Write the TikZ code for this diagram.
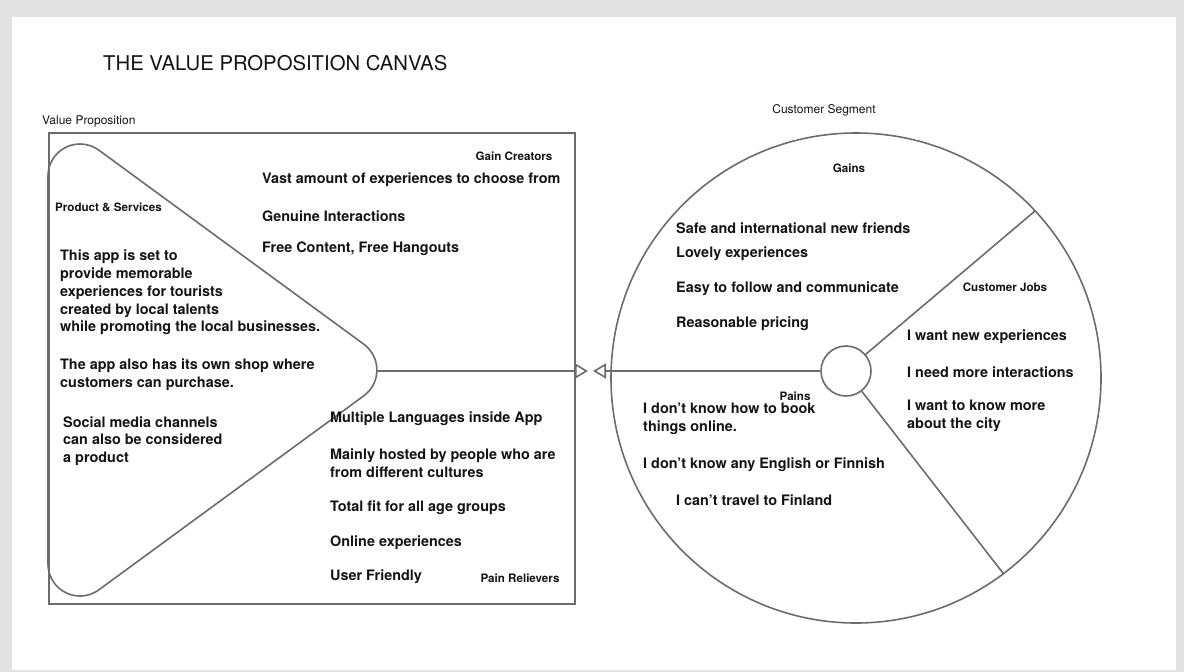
\documentclass[tikz,border=0pt]{standalone}
\usepackage{fontspec}
\setmainfont{TeX Gyre Heros}
\usetikzlibrary{arrows.meta}
\definecolor{bggray}{RGB}{226,226,226}
\definecolor{linegray}{RGB}{108,108,108}
\definecolor{ink}{RGB}{20,20,20}
\tikzset{
  conn/.style={draw=linegray, line width=1.6pt},
  frame/.style={draw=linegray, line width=1.8pt},
  opentip/.style={-{Triangle[open,length=13pt,width=15pt,line width=1.6pt]}},
  item/.style={font=\fontsize{14.4}{17.8}\selectfont\bfseries, text=ink, anchor=west, inner sep=0pt, align=left},
  lab/.style={font=\fontsize{11.6}{13}\selectfont\bfseries, text=ink, inner sep=0pt},
  capt/.style={font=\fontsize{12}{14}\selectfont, text=ink, inner sep=0pt},
  ttl/.style={font=\fontsize{20.3}{24}\selectfont, text=ink, inner sep=0pt, anchor=west}
}
\begin{document}
\begin{tikzpicture}[x=1pt,y=1pt]
\useasboundingbox (0,0) rectangle (1184,-672);
\fill[bggray] (0,0) rectangle (1184,-672);
\fill[white] (12,-17) rectangle (1176,-670);

% title and captions
\node[ttl] (title) at (103,-63) {THE VALUE PROPOSITION CANVAS};
\node[capt, anchor=west] (vplab) at (42,-121) {Value Proposition};
\node[capt] (cslab) at (824,-110) {Customer Segment};

% value proposition frame
\node[frame, minimum width=526pt, minimum height=471pt, anchor=north west, inner sep=0pt] (vp) at (48,-132) {};

% product & services rounded triangle
\draw[conn] (48,-176) arc[start angle=180, end angle=53.76, radius=32]
  -- (363.8,-344.2) arc[start angle=53.76, end angle=-53.76, radius=32]
  -- (98.9,-589.8) arc[start angle=-53.76, end angle=-180, radius=32]
  -- cycle;
\coordinate (tip) at (376.9,-370);

% customer segment circle
\node[conn, circle, minimum size=490pt, inner sep=0pt] (cs) at (856,-378) {};
\node[conn, circle, minimum size=50pt, inner sep=0pt] (hub) at (846,-371) {};
\draw[conn] (hub) -- (cs.43);
\draw[conn] (hub) -- (cs.-53);

% connector with two open arrowheads
\coordinate (a1) at (588,-371);
\coordinate (a2) at (593,-371);
\draw[conn, opentip] (tip |- a1) -- (a1);
\draw[conn, opentip] (hub.west) -- (a2);

% gain creators
\node[lab] (gc) at (514,-156) {Gain Creators};
\node[item] (g1) at (262,-180) {Vast amount of experiences to choose from};
\node[item] (g2) at (262,-216) {Genuine Interactions};
\node[item] (g3) at (262,-249) {Free Content, Free Hangouts};

% products & services
\node[lab, anchor=west] (ps) at (55,-207) {Product \& Services};
\node[item] (p1) at (60,-292.5) {This app is set to\\provide memorable\\experiences for tourists\\created by local talents\\while promoting the local businesses.};
\node[item] (p2) at (60,-374.5) {The app also has its own shop where\\customers can purchase.};
\node[item] (p3) at (63,-441) {Social media channels\\can also be considered\\a product};

% pain relievers
\node[item] (r1) at (330,-419) {Multiple Languages inside App};
\node[item] (r2) at (330,-463.5) {Mainly hosted by people who are\\from different cultures};
\node[item] (r3) at (330,-508) {Total fit for all age groups};
\node[item] (r4) at (330,-543) {Online experiences};
\node[item] (r5) at (330,-577) {User Friendly};
\node[lab] (pr) at (520,-578) {Pain Relievers};

% gains
\node[lab] (gn) at (849,-168) {Gains};
\node[item] (c1) at (676,-228) {Safe and international new friends};
\node[item] (c2) at (676,-254) {Lovely experiences};
\node[item] (c3) at (676,-289) {Easy to follow and communicate};
\node[item] (c4) at (676,-324) {Reasonable pricing};

% customer jobs
\node[lab] (cj) at (1005,-287) {Customer Jobs};
\node[item] (j1) at (907,-337) {I want new experiences};
\node[item] (j2) at (907,-372) {I need more interactions};
\node[item] (j3) at (907,-415.5) {I want to know more\\about the city};

% pains
\node[lab] (pn) at (795,-396) {Pains};
\node[item] (n1) at (643,-418.5) {I don’t know how to book\\things online.};
\node[item] (n2) at (643,-465) {I don’t know any English or Finnish};
\node[item] (n3) at (676,-500) {I can’t travel to Finland};
\end{tikzpicture}
\end{document}
